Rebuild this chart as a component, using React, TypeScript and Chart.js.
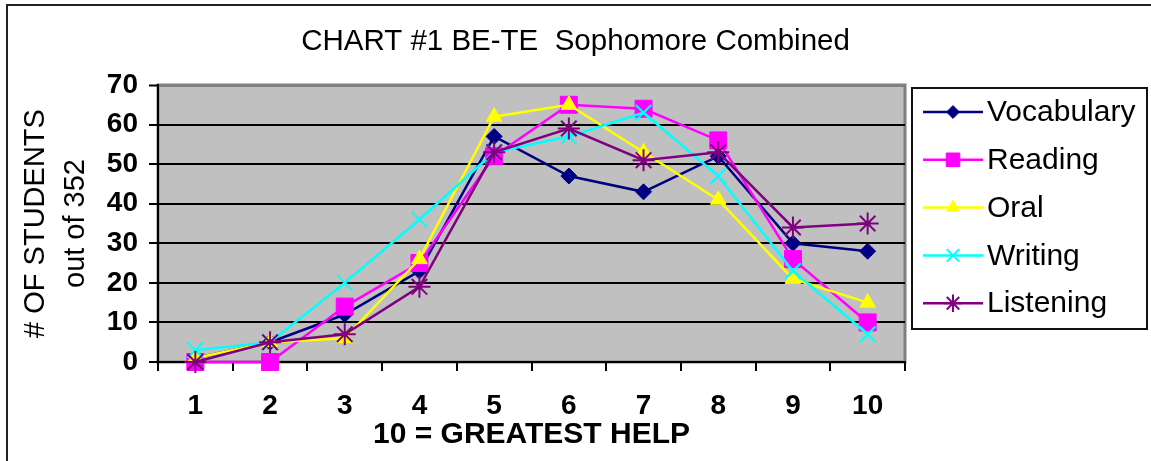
import { useEffect, useRef } from 'react';
import { Chart, registerables } from 'chart.js';
import { drawPoint } from 'chart.js/helpers';

Chart.register(...registerables);

const FONT = '"Liberation Sans", Arial, sans-serif';

const chartTitle = 'CHART #1 BE-TE  Sophomore Combined';
const xAxisTitle = '10 = GREATEST HELP';
const yAxisTitle = ['# OF STUDENTS', 'out of 352'];

const categories = ['1', '2', '3', '4', '5', '6', '7', '8', '9', '10'];
const seriesNames = ['Vocabulary', 'Reading', 'Oral', 'Writing', 'Listening'];

const vocabulary = [1, 5, 12, 23, 57, 47, 43, 52, 30, 28];
const reading = [0, 0, 14, 25, 52, 65, 64, 56, 26, 10];
const oral = [1, 5, 6, 26, 62, 65, 53, 41, 21, 15];
const writing = [3, 5, 20, 36, 53, 57, 63, 47, 23, 7];
const listening = [0, 5, 7, 19, 53, 59, 51, 53, 34, 35];

const yMin = 0;
const yMax = 70;
const yStep = 10;

const seriesValues = [vocabulary, reading, oral, writing, listening];
const seriesColors = ['#000080', '#FF00FF', '#FFFF00', '#00FFFF', '#800080'];
const seriesPointStyles = ['rectRot', 'rect', 'triangle', 'crossRot', 'star'];
const seriesPointRadii = [8, 12, 9, 11, 11];
const seriesPointBorder = [1, 1, 1, 2, 2];

const framePlugin = {
  id: 'frame',
  beforeDraw(chart: any) {
    const { ctx, chartArea: a, width, height } = chart;
    ctx.save();
    ctx.strokeStyle = '#222';
    ctx.lineWidth = 2;
    ctx.beginPath();
    ctx.moveTo(7, height + 10);
    ctx.lineTo(7, 5);
    ctx.lineTo(width + 10, 5);
    ctx.stroke();
    ctx.fillStyle = '#C0C0C0';
    ctx.fillRect(a.left, a.top, a.right - a.left, a.bottom - a.top);
    ctx.strokeStyle = '#808080';
    ctx.lineWidth = 3;
    ctx.strokeRect(a.left, a.top, a.right - a.left, a.bottom - a.top);
    ctx.restore();
  },
};

const boxLegendPlugin = {
  id: 'boxLegend',
  afterDraw(chart: any) {
    const { ctx, chartArea: a } = chart;
    const left = a.right + 7;
    const top = a.top + 3;
    const w = 235;
    const h = 241;
    ctx.save();
    ctx.strokeStyle = '#111';
    ctx.lineWidth = 2;
    ctx.strokeRect(left, top, w, h);
    chart.data.datasets.forEach((ds: any, i: number) => {
      const y = top + 24 + i * 47.8;
      ctx.strokeStyle = ds.borderColor;
      ctx.fillStyle = ds.backgroundColor;
      ctx.lineWidth = 2.5;
      ctx.beginPath();
      ctx.moveTo(left + 11, y);
      ctx.lineTo(left + 71, y);
      ctx.stroke();
      ctx.lineWidth = ds.pointBorderWidth;
      drawPoint(
        ctx,
        { pointStyle: ds.pointStyle, radius: ds.pointRadius * 0.8, rotation: 0, borderWidth: ds.pointBorderWidth },
        left + 41,
        y
      );
      ctx.fillStyle = '#000';
      ctx.font = `30px ${FONT}`;
      ctx.textAlign = 'left';
      ctx.textBaseline = 'middle';
      ctx.fillText(ds.label, left + 75, y + 1);
    });
    ctx.restore();
  },
};

export default function App() {
  const canvasRef = useRef<HTMLCanvasElement | null>(null);

  useEffect(() => {
    if (!canvasRef.current) return;
    const chart = new Chart(canvasRef.current, {
      type: 'line',
      data: {
        labels: categories,
        datasets: seriesNames.map((name, i) => ({
          label: name,
          data: seriesValues[i],
          borderColor: seriesColors[i],
          backgroundColor: seriesColors[i],
          pointBackgroundColor: seriesColors[i],
          pointBorderColor: seriesColors[i],
          pointStyle: seriesPointStyles[i] as any,
          pointRadius: seriesPointRadii[i],
          pointBorderWidth: seriesPointBorder[i],
          borderWidth: 2.5,
          tension: 0,
          clip: false as any,
          order: seriesNames.length - i,
        })),
      },
      options: {
        animation: false,
        responsive: true,
        maintainAspectRatio: false,
        layout: { padding: 0 },
        plugins: {
          legend: { display: false },
          tooltip: { enabled: false },
          title: {
            display: true,
            text: chartTitle,
            color: '#000',
            font: { family: FONT, size: 29.5, weight: 'normal', lineHeight: 1.2 },
            padding: { top: 24, bottom: 25.6 },
          },
        },
        scales: {
          x: {
            type: 'category',
            offset: true,
            grid: {
              offset: true,
              drawOnChartArea: false,
              color: '#000',
              lineWidth: 2,
              tickLength: 9,
              tickWidth: 2,
            },
            border: { color: '#000', width: 2 },
            ticks: {
              color: '#000',
              font: { family: FONT, size: 28, weight: 'bold' },
              padding: 18,
              maxRotation: 0,
              autoSkip: false,
            },
            title: {
              display: true,
              text: xAxisTitle,
              color: '#000',
              font: { family: FONT, size: 30, weight: 'bold', lineHeight: 1.2 },
              padding: { top: 0, bottom: 8 },
            },
            afterFit: (s: any) => {
              s.height = 99;
            },
          },
          y: {
            min: yMin,
            max: yMax,
            ticks: {
              stepSize: yStep,
              color: '#000',
              font: { family: FONT, size: 28, weight: 'bold' },
              padding: 11,
            },
            grid: {
              color: (c: any) => (c.tick && c.tick.value === yMax ? '#808080' : '#000'),
              lineWidth: (c: any) => (c.tick && c.tick.value === yMax ? 3 : 2),
              tickColor: '#000',
              tickWidth: 2,
              tickLength: 9,
            },
            border: { color: '#000', width: 2 },
            title: {
              display: true,
              text: yAxisTitle,
              color: '#000',
              font: { family: FONT, size: 29, weight: 'normal', lineHeight: 40 / 29 },
              padding: { top: 16, bottom: 0 },
            },
            afterFit: (s: any) => {
              s.width = 158;
            },
          },
          legendSpace: {
            type: 'linear',
            position: 'right',
            display: true,
            grid: { display: false, drawTicks: false },
            border: { display: false },
            ticks: { display: false },
            afterFit: (s: any) => {
              s.width = 246;
            },
          },
        },
      },
      plugins: [framePlugin, boxLegendPlugin],
    });
    return () => chart.destroy();
  }, []);

  return (
    <div style={{ position: 'absolute', left: 0, top: 0, width: 1151, height: 461, background: '#fff' }}>
      <canvas ref={canvasRef} />
    </div>
  );
}
